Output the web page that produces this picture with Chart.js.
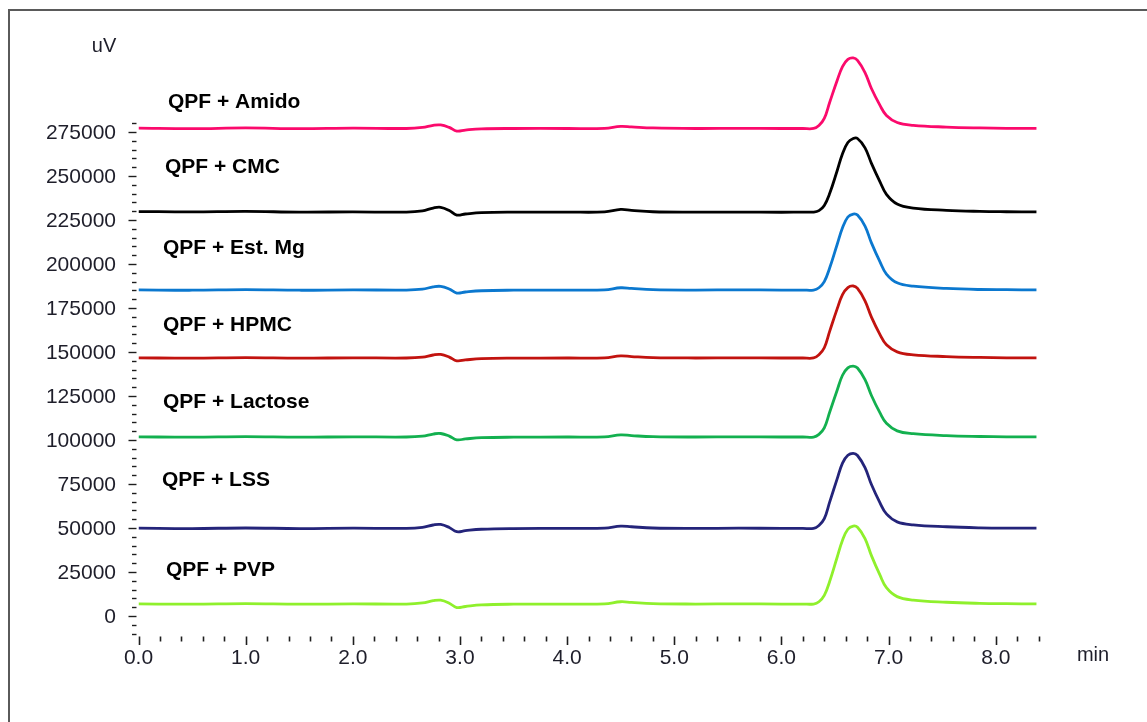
<!DOCTYPE html>
<html>
<head>
<meta charset="utf-8">
<script src="https://cdn.jsdelivr.net/npm/chart.js@4"></script>
<style>
  html, body { margin: 0; padding: 0; background: #fff; overflow: hidden; }
  #frame { position: absolute; left: 8px; top: 9px; width: 1200px; height: 800px;
           border: 2px solid #5a5a5a; box-sizing: border-box; }
  #chromChart { position: absolute; left: 0; top: 0; }
</style>
</head>
<body>
<div id="frame"></div>
<canvas id="chromChart" width="1147" height="722"></canvas>
<script>
// retention time (min)
let times = [0.0, 0.5, 1.0, 1.5, 2.0, 2.5, 2.65, 2.75, 2.82, 2.9, 2.97, 3.05, 3.2, 3.5, 4.0, 4.35, 4.5, 4.6, 4.8, 5.2, 5.6, 6.0, 6.2,
  6.3, 6.35, 6.4, 6.45, 6.52, 6.57, 6.62, 6.67, 6.71, 6.78, 6.84, 6.92, 6.98, 7.08, 7.23, 7.54, 7.85, 8.1, 8.38];

// signal (uV), one trace per sample
let amido = [277200, 276900, 277300, 276900, 277200, 277000, 277600, 278800, 279000, 277600, 275500, 276100, 276800, 277000, 277000, 277100, 278200, 277900, 277300, 277000, 277100, 277000, 277000,
  277000, 278700, 282700, 291800, 304300, 312200, 316300, 317100, 315700, 308800, 299700, 290100, 284400, 280400, 278800, 277800, 277300, 277100, 277100];
let cmc = [229800, 229600, 229900, 229500, 229600, 229500, 230200, 231800, 232200, 230400, 227800, 228400, 229200, 229500, 229500, 229600, 231000, 230500, 229700, 229500, 229500, 229400, 229500,
  229500, 230300, 233300, 240000, 253000, 262700, 269000, 271300, 271300, 266000, 257200, 246700, 239600, 234100, 231800, 230500, 229900, 229700, 229600];
let estMg = [185300, 185100, 185400, 185100, 185300, 185200, 185700, 187000, 187300, 185800, 183500, 184100, 184800, 185100, 185200, 185300, 186500, 186100, 185400, 185200, 185300, 185200, 185200,
  185200, 186500, 190000, 197700, 211100, 220600, 226700, 228400, 227800, 221500, 212000, 201200, 194300, 189300, 187400, 186100, 185500, 185400, 185300];
let hpmc = [146700, 146500, 146800, 146500, 146700, 146600, 147100, 148300, 148600, 147100, 145000, 145500, 146200, 146500, 146600, 146700, 147800, 147400, 146800, 146600, 146700, 146600, 146600,
  146600, 148400, 152400, 161700, 174500, 182600, 186600, 187500, 186100, 179100, 169800, 159900, 154100, 150100, 148400, 147400, 146900, 146700, 146700];
let lactose = [101800, 101600, 101900, 101600, 101800, 101700, 102200, 103400, 103700, 102200, 100100, 100600, 101300, 101600, 101700, 101800, 102900, 102500, 101900, 101700, 101800, 101700, 101700,
  101700, 103200, 106900, 115800, 128300, 136800, 141000, 142000, 140900, 134300, 125300, 115400, 109500, 105200, 103600, 102500, 102000, 101800, 101800];
let lss = [49900, 49700, 50000, 49700, 49900, 49800, 50400, 51700, 52000, 50300, 47900, 48500, 49300, 49700, 49800, 49900, 51100, 50700, 50000, 49800, 49900, 49800, 49800,
  49800, 51400, 55300, 64700, 77900, 86900, 91300, 92400, 91200, 84300, 74700, 64300, 58000, 53500, 51800, 50700, 50100, 49900, 49900];
let pvp = [6900, 6700, 7000, 6700, 6900, 6800, 7400, 8700, 9000, 7300, 4800, 5400, 6300, 6700, 6800, 6900, 8100, 7700, 7000, 6800, 6900, 6800, 6800,
  6800, 8100, 11700, 19600, 33400, 43100, 49300, 51100, 50400, 44000, 34300, 23200, 16100, 11000, 9000, 7800, 7200, 7000, 6900];

let sampleNames = ["QPF + Amido", "QPF + CMC", "QPF + Est. Mg", "QPF + HPMC", "QPF + Lactose", "QPF + LSS", "QPF + PVP"];
let traces = [amido, cmc, estMg, hpmc, lactose, lss, pvp];
let colors = ["#fb0a6c", "#000000", "#0b78cf", "#c2130f", "#13b04f", "#24247a", "#8ff02c"];

let yTickLabels = [0, 25000, 50000, 75000, 100000, 125000, 150000, 175000, 200000, 225000, 250000, 275000];
let xTickLabels = ["0.0", "1.0", "2.0", "3.0", "4.0", "5.0", "6.0", "7.0", "8.0"];

// where the sample names sit (canvas px)
let namePos = [[168, 102], [165, 167], [163, 248], [163, 325], [163, 402], [162, 480], [166, 570]];

const axesPlugin = {
  id: "chromAxes",
  afterDraw(chart) {
    const c = chart.ctx;
    const xs = chart.scales.x, ys = chart.scales.y;
    const left = chart.chartArea.left;
    c.save();
    c.fillStyle = "#1e1e2a";
    c.strokeStyle = "#1e1e1e";

    // y ticks: minor every 5000, major every 25000
    c.lineWidth = 1.4;
    for (let v = -10000; v <= 280000; v += 5000) {
      const py = Math.round(ys.getPixelForValue(v)) + 0.5;
      const major = v % 25000 === 0;
      c.beginPath();
      c.moveTo(left - 2, py);
      c.lineTo(left - (major ? 10 : 6.5), py);
      c.stroke();
    }
    c.font = "21px 'Liberation Sans', Arial, sans-serif";
    c.textAlign = "right";
    c.textBaseline = "middle";
    yTickLabels.forEach(v => {
      c.fillText(String(v), 116, ys.getPixelForValue(v) + 1);
    });

    // x ticks: minor every 0.2 min
    const axY = 636.5;
    c.lineWidth = 1.6;
    for (let i = 0; i <= 42; i++) {
      const t = i * 0.2;
      const px = Math.round(xs.getPixelForValue(t)) + 0.5;
      const major = i % 5 === 0;
      c.beginPath();
      c.moveTo(px, axY);
      c.lineTo(px, axY + (major ? 8.5 : 5));
      c.stroke();
    }
    c.textAlign = "center";
    xTickLabels.forEach(lbl => {
      c.fillText(lbl, xs.getPixelForValue(parseFloat(lbl)), 658);
    });

    c.font = "20px 'Liberation Sans', Arial, sans-serif";
    c.fillText("uV", 104, 46);
    c.fillText("min", 1093, 655);

    // sample names
    c.fillStyle = "#000";
    c.font = "bold 21px 'Liberation Sans', Arial, sans-serif";
    c.textAlign = "left";
    sampleNames.forEach((n, i) => {
      c.fillText(n, namePos[i][0], namePos[i][1]);
    });
    c.restore();
  }
};

let ctx = document.getElementById("chromChart").getContext("2d");

let myChart = new Chart(ctx, {
  type: "line",
  data: {
    datasets: sampleNames.map((name, i) => ({
      label: name,
      data: times.map((t, j) => ({ x: t, y: traces[i][j] })),
      borderColor: colors[i],
      backgroundColor: "transparent",
      borderWidth: 2.8,
      pointRadius: 0,
      tension: 0.4,
      fill: false
    }))
  },
  options: {
    responsive: false,
    animation: false,
    devicePixelRatio: 1,
    layout: {
      padding: { left: 138.5, right: 108.4, top: 35.2, bottom: 88.4 }
    },
    plugins: {
      legend: { display: false },
      tooltip: { enabled: false }
    },
    scales: {
      x: { type: "linear", min: 0, max: 8.4, display: false },
      y: { type: "linear", min: -10000, max: 330000, display: false }
    }
  },
  plugins: [axesPlugin]
});
</script>
</body>
</html>
